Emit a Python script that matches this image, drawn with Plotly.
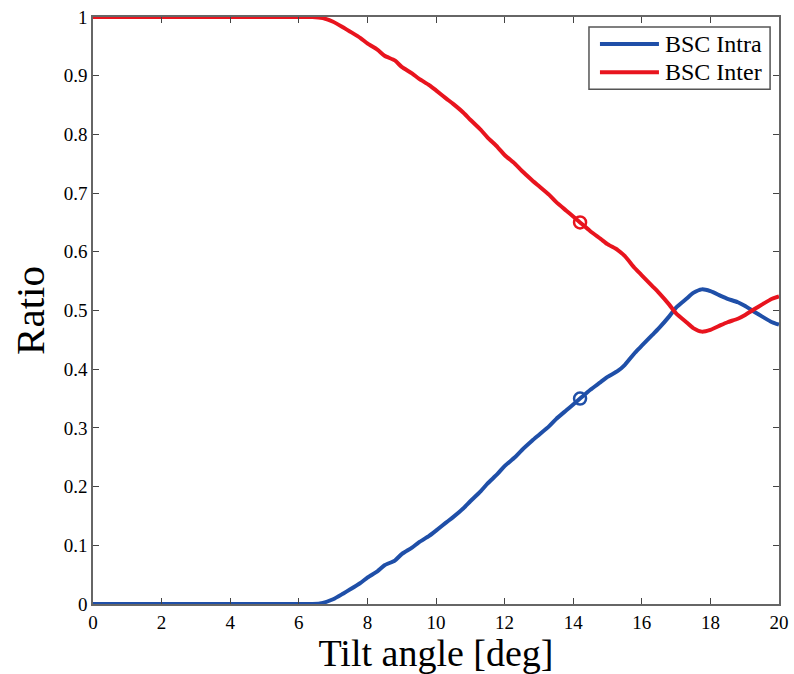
import plotly.graph_objects as go

x_vals = [0, 1, 2, 3, 4, 5, 6, 6.4, 6.7, 7.0, 7.3, 7.5, 7.8, 8.0, 8.3, 8.5, 8.8, 9.0, 9.3, 9.5, 9.8,
          10.0, 10.3, 10.5, 10.8, 11.0, 11.3, 11.5, 11.8, 12.0, 12.3, 12.5, 12.8, 13.0, 13.3, 13.5,
          13.8, 14.0, 14.2, 14.5, 14.8, 15.0, 15.3, 15.5, 15.8, 16.0, 16.3, 16.5, 16.8, 17.0, 17.3,
          17.5, 17.75, 18.0, 18.3, 18.5, 18.8, 19.0, 19.3, 19.5, 19.8, 20.0]
intra = [0, 0, 0, 0, 0, 0, 0, 0, 0.002, 0.008, 0.018, 0.025, 0.036, 0.045, 0.056, 0.066, 0.074, 0.085, 0.096, 0.105, 0.116,
         0.125, 0.139, 0.148, 0.163, 0.175, 0.192, 0.205, 0.222, 0.235, 0.25, 0.262, 0.278, 0.288, 0.303, 0.315,
         0.33, 0.34, 0.35, 0.365, 0.378, 0.387, 0.397, 0.407, 0.428, 0.44, 0.458, 0.47, 0.49, 0.505, 0.52,
         0.53, 0.536, 0.533, 0.525, 0.52, 0.514, 0.508, 0.497, 0.49, 0.48, 0.476]
inter = [1 - v for v in intra]

marker_x = [14.2]
marker_intra = [0.35]
marker_inter = [0.65]

series_names = ["BSC Intra", "BSC Inter"]

blue = "#1f4fa8"
red = "#e8141e"
font = "Liberation Serif"

fig = go.Figure()
fig.add_trace(go.Scatter(x=x_vals, y=intra, mode="lines", name=series_names[0],
                         line=dict(color=blue, width=4, shape="spline", smoothing=0.6)))
fig.add_trace(go.Scatter(x=x_vals, y=inter, mode="lines", name=series_names[1],
                         line=dict(color=red, width=4, shape="spline", smoothing=0.6)))
fig.add_trace(go.Scatter(x=marker_x, y=marker_intra, mode="markers", showlegend=False,
                         marker=dict(symbol="circle-open", size=12, color=blue, line=dict(width=2.5, color=blue))))
fig.add_trace(go.Scatter(x=marker_x, y=marker_inter, mode="markers", showlegend=False,
                         marker=dict(symbol="circle-open", size=12, color=red, line=dict(width=2.5, color=red))))

axis_common = dict(showline=True, linecolor="#666666", linewidth=1.5, mirror="ticks",
                   ticks="inside", ticklen=6, tickcolor="#444444", showgrid=False, zeroline=False,
                   automargin=False,
                   tickfont=dict(family=font, size=19, color="black"))

# custom legend box (paper coordinates)
shapes = [dict(type="rect", xref="paper", yref="paper", x0=0.723, x1=0.987, y0=0.877, y1=0.983,
               line=dict(color="#555555", width=1.5), fillcolor="white", layer="above")]
annotations = []
for name, col, yy in [(series_names[0], blue, 0.954), (series_names[1], red, 0.906)]:
    shapes.append(dict(type="line", xref="paper", yref="paper", x0=0.739, x1=0.825, y0=yy, y1=yy,
                       line=dict(color=col, width=4), layer="above"))
    annotations.append(dict(xref="paper", yref="paper", x=0.831, y=yy, text=name, showarrow=False,
                            xanchor="left", yanchor="middle",
                            font=dict(family=font, size=24, color="black")))

fig.update_layout(
    width=794, height=674,
    margin=dict(l=93, r=15, t=17, b=70),
    paper_bgcolor="white", plot_bgcolor="white",
    font=dict(family=font, color="black"),
    showlegend=False,
    shapes=shapes, annotations=annotations,
    xaxis=dict(range=[0, 20], tickvals=list(range(0, 21, 2)),
               title=dict(text="Tilt angle [deg]", font=dict(family=font, size=38), standoff=8),
               **axis_common),
    yaxis=dict(range=[0, 1], tickvals=[i / 10 for i in range(11)],
               ticktext=["0", "0.1", "0.2", "0.3", "0.4", "0.5", "0.6", "0.7", "0.8", "0.9", "1"],
               title=dict(text="Ratio", font=dict(family=font, size=41), standoff=6),
               **axis_common),
)

fig.write_html("out.html")
